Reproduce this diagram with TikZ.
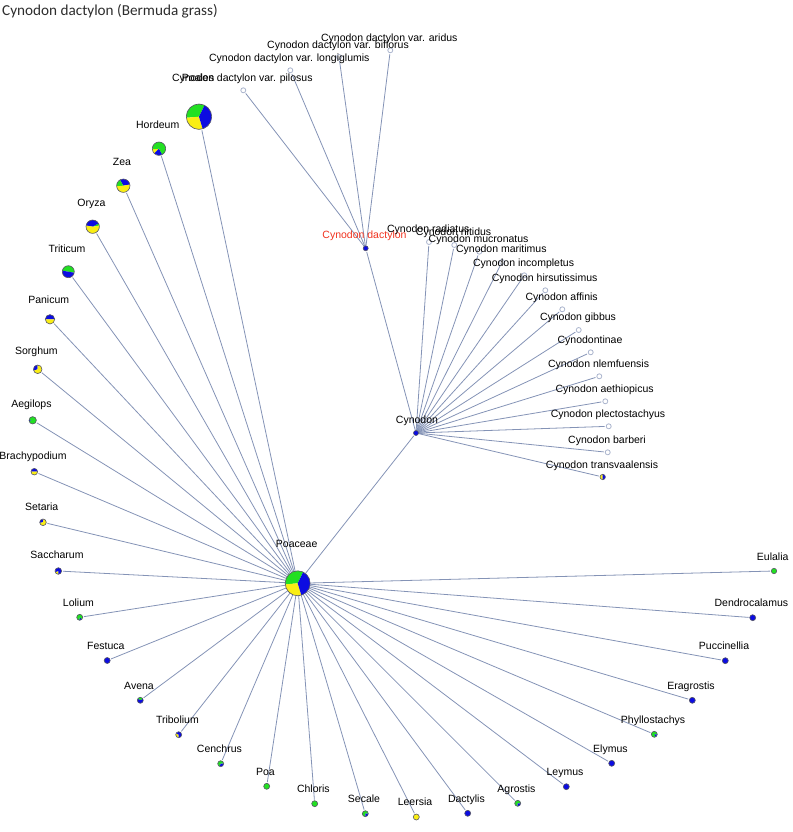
\documentclass[tikz,border=0pt]{standalone}
\usepackage{fontspec}
\setmainfont{Liberation Sans}
\newfontfamily\headfont{Carlito}
\usetikzlibrary{positioning}

\newcommand{\pienode}[4]{% centre x, centre y, radius, wedge list (angles counter-clockwise)
  \foreach \s/\e/\col in #4{
    \fill[fill=\col] (#1,#2) -- ++(-\s:#3) arc[start angle=-\s,end angle=-\e,radius=#3] -- cycle;}
  \draw[rim] (#1,#2) circle (#3);}

\begin{document}
\begin{tikzpicture}[
    x=1pt, y=-1pt,                  % 1 drawing unit = 1 px, y grows downwards
    font=\fontsize{10.5}{12}\selectfont,
    edge/.style={line width=0.8pt,edgeC,shorten >=1pt},
    taxon/.style={circle,inner sep=0pt,minimum size=#1},
    lab/.style={inner sep=0pt,text height=8.2pt,text depth=0.8pt},
    rim/.style={draw=rimC,line width=0.6pt},
    ring/.style={draw=ringC,fill=white,line width=0.8pt},
  ]
  \definecolor{edgeC}{RGB}{132,147,182}
  \definecolor{ringC}{RGB}{170,180,205}
  \definecolor{rimC}{RGB}{85,85,100}
  \definecolor{pgreen}{RGB}{34,224,34}
  \definecolor{pblue}{RGB}{12,12,225}
  \definecolor{pyellow}{RGB}{250,238,20}
  \definecolor{labred}{RGB}{240,50,30}
  \definecolor{titleC}{RGB}{45,45,45}

  \useasboundingbox (0,0) rectangle (792,832);

  %% ---------------- data (px) ----------------
  \def\mix{64/185/pgreen,185/287/pyellow,287/424/pblue}
  \def\allblue{0/360/pblue}
  \def\genera{%
    hordeum/159/148.7/6.7/Hordeum/{185/225/pyellow,225/300/pblue,300/545/pgreen},
    zea/123.3/185.7/6.7/Zea/{10/120/pblue,120/185/pgreen,185/370/pyellow},
    oryza/92.7/226.7/6.7/Oryza/{10/30/pgreen,30/170/pblue,170/370/pyellow},
    triticum/68.3/271.7/6/Triticum/{350/530/pgreen,170/350/pblue},
    panicum/50/319.3/4.7/Panicum/{0/180/pblue,180/360/pyellow},
    sorghum/37.7/369.3/4.3/Sorghum/{90/200/pblue,200/450/pyellow},
    aegilops/32.7/420.3/3.7/Aegilops/{170/190/pblue,190/530/pgreen},
    brachypodium/34.3/471.7/3.3/Brachypodium/{0/180/pblue,180/360/pyellow},
    setaria/43/522.3/3.3/Setaria/{80/190/pblue,190/440/pyellow},
    saccharum/58.3/571/3.3/Saccharum/{200/270/pyellow,270/560/pblue},
    lolium/79.7/617.3/3/Lolium/{260/320/pblue,320/620/pgreen},
    festuca/107.2/660.5/3/Festuca/{0/360/pblue},
    avena/140.3/700.3/3/Avena/{30/150/pgreen,150/390/pblue},
    tribolium/178.7/734.7/3/Tribolium/{150/270/pyellow,270/510/pblue},
    cenchrus/220.7/763.7/3/Cenchrus/{0/250/pgreen,250/360/pblue},
    poa/266.7/786.3/3/Poa/{0/360/pgreen},
    chloris/314.7/803.7/3/Chloris/{0/360/pgreen},
    secale/365.3/813.7/3/Secale/{0/270/pgreen,270/360/pblue},
    leersia/416.3/817/3/Leersia/{0/360/pyellow},
    dactylis/467.7/813.3/3/Dactylis/{0/360/pblue},
    agrostis/517.7/803.3/3/Agrostis/{0/270/pgreen,270/360/pblue},
    leymus/566.3/786.7/3/Leymus/{0/360/pblue},
    elymus/611.7/763.3/3/Elymus/{0/360/pblue},
    phyllostachys/654.3/734.3/3/Phyllostachys/{0/300/pgreen,300/360/pblue},
    eragrostis/692.3/700.3/3/Eragrostis/{0/360/pblue},
    puccinellia/725.3/660.7/3/Puccinellia/{0/360/pblue},
    dendrocalamus/752.7/617.7/3/Dendrocalamus/{0/360/pblue},
    eulalia/774/571/2.7/Eulalia/{0/360/pgreen}}
  \def\varieties{%
    pilosus/243.3/90.3/Cynodon dactylon var. pilosus,
    longiglumis/290.3/70.3/Cynodon dactylon var. longiglumis,
    biflorus/339/57/Cynodon dactylon var. biflorus,
    aridus/390.3/50.3/Cynodon dactylon var. aridus}
  \def\cynodonspp{%
    radiatus/429/242/Cynodon radiatus,
    nitidus/454.3/245/Cynodon nitidus,
    mucronatus/479.3/251.7/Cynodon mucronatus,
    maritimus/502/262/Cynodon maritimus,
    incompletus/524.3/275.3/Cynodon incompletus,
    hirsutissimus/545.3/290.3/Cynodon hirsutissimus,
    affinis/562.3/309.3/Cynodon affinis,
    gibbus/578.7/330/Cynodon gibbus,
    cynodontinae/590.7/352.3/Cynodontinae,
    nlemfuensis/599.3/376.3/Cynodon nlemfuensis,
    aethiopicus/605.3/401.3/Cynodon aethiopicus,
    plectostachyus/608.7/426.3/Cynodon plectostachyus,
    barberi/607.7/452.3/Cynodon barberi}

  %% ---------------- nodes ----------------
  \node[taxon=25.4pt] (poales) at (199,116.7) {};
  \node[taxon=25pt] (poaceae) at (297.7,583.3) {};
  \node[taxon=5pt] (cynodon) at (416,433) {};
  \node[taxon=5pt] (dactylon) at (365.7,248.3) {};
  \node[taxon=5.4pt] (transvaalensis) at (602.7,477) {};
  \foreach \n/\x/\y/\r/\t/\p in \genera{
    \pgfmathsetmacro{\dia}{2*\r}
    \node[taxon=\dia pt] (\n) at (\x,\y) {};}
  \foreach \n/\x/\y/\t in \varieties{\node[taxon=5.6pt] (\n) at (\x,\y) {};}
  \foreach \n/\x/\y/\t in \cynodonspp{\node[taxon=5.6pt] (\n) at (\x,\y) {};}

  %% ---------------- edges ----------------
  \foreach \n/\x/\y/\r/\t/\p in \genera{\draw[edge] (poaceae) -- (\n);}
  \draw[edge] (poaceae) -- (poales);
  \draw[edge] (poaceae) -- (cynodon);
  \draw[edge] (cynodon) -- (dactylon);
  \draw[edge] (cynodon) -- (transvaalensis);
  \foreach \n/\x/\y/\t in \cynodonspp{\draw[edge] (cynodon) -- (\n);}
  \foreach \n/\x/\y/\t in \varieties{\draw[edge] (dactylon) -- (\n);}

  %% ---------------- markers and labels ----------------
  \pienode{199}{116.7}{12.7}{\mix}
  \pienode{297.7}{583.3}{12.5}{\mix}
  \pienode{416}{433}{2.5}{\allblue}
  \pienode{365.7}{248.3}{2.5}{\allblue}
  \pienode{602.7}{477}{2.7}{{90/270/pyellow,270/450/pblue}}
  \foreach \n/\x/\y/\t in \varieties{\draw[ring] (\n.center) circle (2.5);}
  \foreach \n/\x/\y/\t in \cynodonspp{\draw[ring] (\n.center) circle (2.5);}
  \foreach \n/\x/\y/\r/\t/\p in \genera{\pienode{\x}{\y}{\r}{\p}}

  \node[lab] (poales-l) at (198,77.5) {Poales};
  \node[lab] (poaceae-l) at (296.7,544) {Poaceae};
  \node[lab] (cynodon-l) at (417,420) {Cynodon};
  \node[lab,text=labred] (dactylon-l) at (364.5,234.7) {Cynodon dactylon};
  \node[lab] (transvaalensis-l) at (602,465) {Cynodon transvaalensis};
  \foreach \n/\x/\y/\r/\t/\p in \genera{
    \node[lab] (\n-l) at ({\x-1.3},{\y-2.5*\r-7.5}) {\t};}
  \foreach \n/\x/\y/\t in \varieties{
    \node[lab] (\n-l) at ({\x-1},{\y-12.6}) {\t};}
  \foreach \n/\x/\y/\t in \cynodonspp{
    \node[lab] (\n-l) at ({\x-0.7},{\y-13}) {\t};}

  \node[anchor=base west,inner sep=0pt,text=titleC,
        font=\headfont\fontsize{15.2}{18}\selectfont] (title) at (2,16)
        {Cynodon dactylon (Bermuda grass)};
\end{tikzpicture}
\end{document}
